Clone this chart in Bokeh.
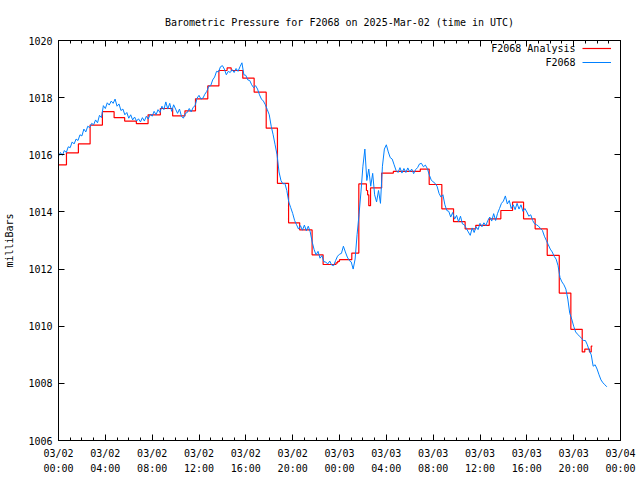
import numpy as np
from bokeh.plotting import figure
from bokeh.models import FixedTicker, LinearAxis, Range1d, Legend, LegendItem, Label
from bokeh.embed import file_html
from bokeh.resources import INLINE

FONT = "DejaVu Sans Mono"

TITLE = "Barometric Pressure for F2068 on 2025-Mar-02 (time in UTC)"
Y_LABEL = "milliBars"
SERIES_ANALYSIS = "F2068 Analysis"
SERIES_OBS = "F2068"

# x axis: hours since 2025-03-02 00:00 UTC
x_tick_hours = [0, 4, 8, 12, 16, 20, 24, 28, 32, 36, 40, 44, 48]
x_tick_labels = ["03/02\n00:00", "03/02\n04:00", "03/02\n08:00", "03/02\n12:00",
                 "03/02\n16:00", "03/02\n20:00", "03/03\n00:00", "03/03\n04:00",
                 "03/03\n08:00", "03/03\n12:00", "03/03\n16:00", "03/03\n20:00",
                 "03/04\n00:00"]
y_ticks = [1006, 1008, 1010, 1012, 1014, 1016, 1018, 1020]

# observed pressure, one value every 10 minutes (6 per hour) from 00:00
obs_interval_hours = 1.0 / 6.0
obs_pressure = [
    1015.95, 1016.08, 1015.98, 1016.15, 1016.08, 1016.28,
    1016.25, 1016.45, 1016.38, 1016.55, 1016.5, 1016.7,
    1016.66, 1016.9, 1016.8, 1017.0, 1016.95, 1017.1,
    1017.05, 1017.22, 1017.12, 1017.38, 1017.3, 1017.72,
    1017.62, 1017.82, 1017.74, 1017.88, 1017.8, 1017.95,
    1017.7, 1017.78, 1017.55, 1017.6, 1017.4, 1017.48,
    1017.28, 1017.4, 1017.22, 1017.32, 1017.18, 1017.26,
    1017.15, 1017.3, 1017.18, 1017.35, 1017.25, 1017.42,
    1017.35, 1017.52, 1017.4, 1017.58, 1017.48, 1017.7,
    1017.58, 1017.85, 1017.6, 1017.8, 1017.52, 1017.75,
    1017.6, 1017.45, 1017.6, 1017.35, 1017.28, 1017.45,
    1017.48, 1017.62, 1017.5, 1017.66, 1017.72, 1017.98,
    1018.08, 1017.95, 1017.98, 1018.12, 1018.22, 1018.4,
    1018.42, 1018.62, 1018.72, 1018.92, 1018.9, 1019.08,
    1019.12, 1019.0, 1018.8, 1018.92, 1018.88, 1018.98,
    1018.88, 1019.02, 1018.92, 1019.08, 1019.22, 1018.8,
    1018.78, 1018.62, 1018.6, 1018.45, 1018.35, 1018.42,
    1018.3, 1018.1, 1017.95, 1017.88, 1017.75, 1017.58,
    1017.4, 1017.0, 1016.7, 1016.35, 1016.0, 1015.4,
    1015.1, 1014.98, 1015.0, 1014.75, 1014.35, 1014.15,
    1013.95, 1013.7, 1013.55, 1013.4, 1013.52, 1013.36,
    1013.54, 1013.34, 1013.5, 1013.3, 1012.95, 1012.68,
    1012.5, 1012.62, 1012.38, 1012.47, 1012.26, 1012.24,
    1012.18, 1012.28, 1012.14, 1012.12, 1012.3, 1012.45,
    1012.52, 1012.55, 1012.8, 1012.6, 1012.42, 1012.3,
    1012.25, 1012.0, 1012.35, 1013.2, 1013.9, 1014.7,
    1015.6, 1016.2, 1015.1, 1015.5, 1014.9, 1015.35,
    1014.6, 1014.35, 1014.75, 1014.3, 1015.6, 1016.2,
    1016.35, 1016.1, 1015.9, 1015.85, 1015.65, 1015.45,
    1015.38, 1015.55, 1015.36, 1015.52, 1015.38, 1015.54,
    1015.4, 1015.5, 1015.34, 1015.48, 1015.55, 1015.68,
    1015.7, 1015.58, 1015.64, 1015.52, 1015.3, 1015.12,
    1015.05, 1015.0, 1014.9, 1014.65, 1014.52, 1014.6,
    1014.25, 1014.05, 1014.02, 1013.82, 1013.98, 1013.75,
    1013.88, 1013.66, 1013.85, 1013.58, 1013.55, 1013.42,
    1013.3, 1013.18, 1013.44, 1013.28, 1013.48, 1013.38,
    1013.6, 1013.48, 1013.62, 1013.52, 1013.7, 1013.82,
    1013.68, 1013.94, 1013.7, 1013.95, 1014.12, 1014.3,
    1014.38, 1014.56, 1014.28, 1014.4, 1014.12, 1014.25,
    1014.08, 1014.3, 1014.1, 1014.25, 1014.02, 1014.12,
    1014.0, 1013.85, 1013.9, 1013.7, 1013.58, 1013.55,
    1013.5, 1013.42, 1013.35, 1013.15, 1013.0, 1012.85,
    1012.7, 1012.6, 1012.45, 1012.35, 1012.12, 1011.7,
    1011.55, 1011.45, 1011.3, 1010.95, 1010.45, 1010.25,
    1010.0, 1009.8, 1009.72, 1009.65, 1009.58, 1009.5,
    1009.5, 1009.35, 1009.15, 1009.0, 1008.6, 1008.65,
    1008.5, 1008.3, 1008.12, 1008.02, 1007.95, 1007.88,
]
obs_hours = [i * obs_interval_hours for i in range(len(obs_pressure))]

# analysis (step) series: start hour of each step and its value
analysis_hours = [0.0, 0.68, 1.7, 2.7, 3.75, 4.75, 5.65, 6.65, 7.65, 8.7, 9.75,
                  10.8, 11.7, 12.75, 13.7, 14.4, 14.75, 15.74, 16.71, 17.74,
                  18.7, 19.65, 20.6, 21.66, 22.6, 23.7, 23.85, 24.0, 25.05,
                  25.65, 26.3, 26.4, 26.5, 26.65, 27.6, 28.6, 30.9, 31.66,
                  32.74, 33.74, 34.73, 35.64, 36.79, 37.78, 38.78, 39.72,
                  40.71, 41.74, 42.77, 43.76, 44.73, 44.95, 45.35, 45.5, 45.6]
analysis_pressure = [1015.65, 1016.07, 1016.38, 1017.04, 1017.51, 1017.3, 1017.18,
                     1017.09, 1017.4, 1017.62, 1017.36, 1017.54, 1017.96, 1018.41,
                     1018.95, 1019.04, 1018.95, 1018.68, 1018.19, 1016.93, 1015.0,
                     1013.62, 1013.37, 1012.5, 1012.16, 1012.22, 1012.27, 1012.33,
                     1012.56, 1014.98, 1014.75, 1014.6, 1014.22, 1014.84, 1015.36,
                     1015.42, 1015.5, 1014.96, 1014.11, 1013.66, 1013.41, 1013.53,
                     1013.76, 1014.05, 1014.34, 1013.76, 1013.41, 1012.48, 1011.16,
                     1009.89, 1009.1, 1009.2, 1009.1, 1009.3, 1009.3]

p = figure(width=640, height=480, output_backend="svg", toolbar_location=None,
           x_range=Range1d(0, 48), y_range=Range1d(1006, 1020),
           min_border_left=58, min_border_right=20, min_border_top=40,
           min_border_bottom=40)
p.background_fill_color = "white"
p.border_fill_color = "white"
p.outline_line_color = "black"
p.outline_line_width = 1
p.grid.visible = False

p.title.text = TITLE
p.title.align = "center"
p.title.text_font = FONT
p.title.text_font_size = "10px"
p.title.text_font_style = "normal"
p.title.text_color = "black"
p.title.standoff = 25

p.add_layout(LinearAxis(), "above")
p.add_layout(LinearAxis(), "right")

for ax in p.xaxis:
    ax.ticker = FixedTicker(ticks=x_tick_hours, minor_ticks=list(range(0, 49)))
for ax in p.yaxis:
    ax.ticker = FixedTicker(ticks=y_ticks, minor_ticks=[])

for ax in list(p.xaxis) + list(p.yaxis):
    ax.axis_line_color = "black"
    ax.major_tick_line_color = "black"
    ax.minor_tick_line_color = "black"
    ax.major_tick_in = 6
    ax.major_tick_out = 0
    ax.minor_tick_in = 3
    ax.minor_tick_out = 0
    ax.major_label_text_font = FONT
    ax.major_label_text_font_size = "10px"
    ax.major_label_text_color = "black"

bottom = p.below[0]
bottom.major_label_overrides = {h: lab for h, lab in zip(x_tick_hours, x_tick_labels)}
bottom.major_label_standoff = 7
bottom.major_label_text_line_height = 1.4

left = p.left[0]
left.major_label_overrides = {v: str(v) for v in y_ticks}
left.major_label_standoff = 6
left.axis_label = Y_LABEL
left.axis_label_text_font = FONT
left.axis_label_text_font_size = "10px"
left.axis_label_text_font_style = "normal"
left.axis_label_text_color = "black"
left.axis_label_standoff = 10

top = p.above[0]
top.major_label_overrides = {h: "" for h in x_tick_hours}
top.major_label_standoff = 0
right = p.right[0]
right.major_label_overrides = {v: "" for v in y_ticks}
right.major_label_standoff = 0

r_red = p.step(analysis_hours, analysis_pressure, mode="after",
               line_color="#ff0000", line_width=1.2)
r_blue = p.line(obs_hours, obs_pressure, line_color="#0080ff", line_width=1)

legend = Legend(items=[LegendItem(label=" ", renderers=[r_red]),
                       LegendItem(label=" ", renderers=[r_blue])],
                location=(524, 371), padding=0, spacing=0, margin=0,
                glyph_width=29, glyph_height=14, label_height=14,
                label_width=0, label_standoff=0,
                label_text_font_size="10px",
                border_line_color=None, background_fill_alpha=0)
p.add_layout(legend)

for i, name in enumerate([SERIES_ANALYSIS, SERIES_OBS]):
    p.add_layout(Label(x=517, y=392 - 14 * i, x_units="screen", y_units="screen",
                       text=name, text_align="right", text_baseline="middle",
                       text_font=FONT, text_font_size="10px", text_color="black"))

open("out.html", "w").write(file_html(p, INLINE))
